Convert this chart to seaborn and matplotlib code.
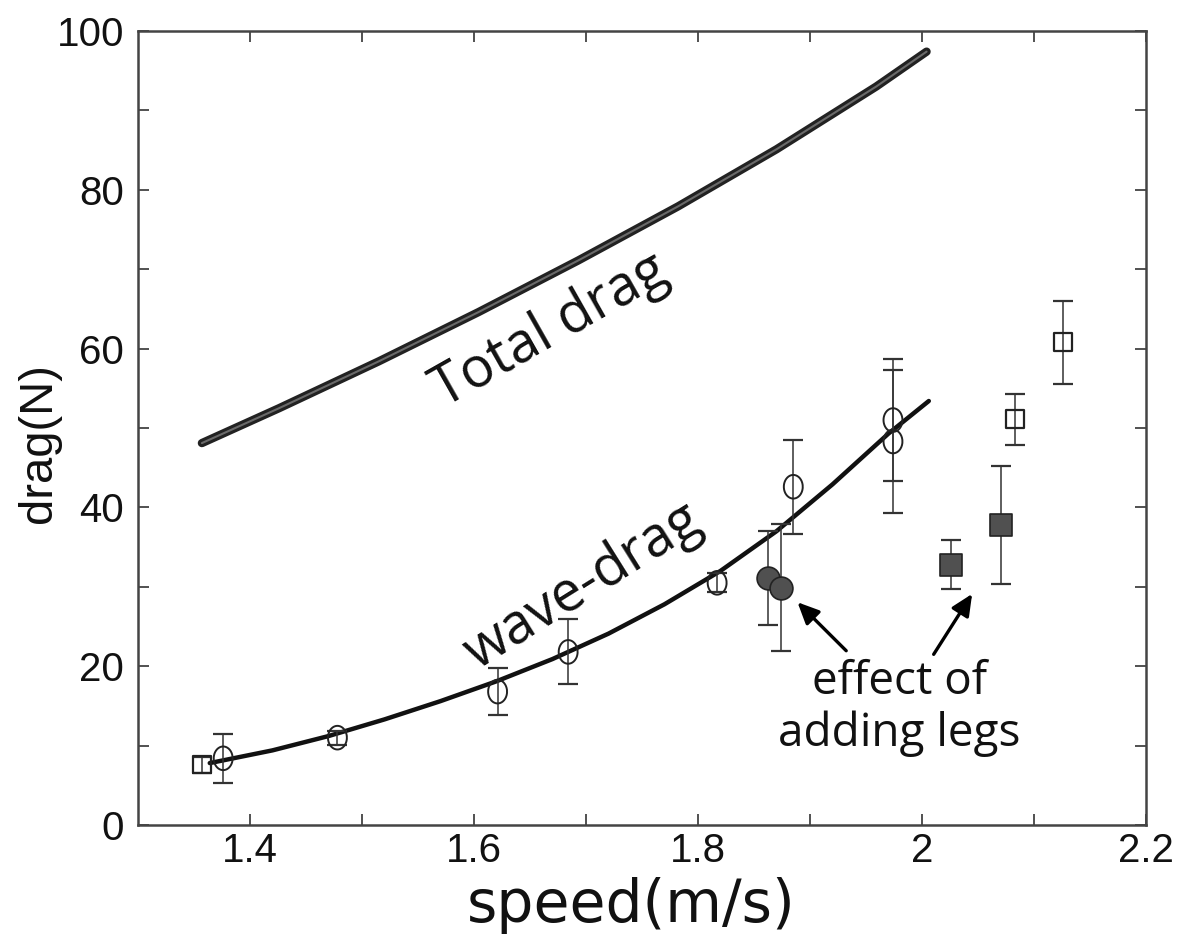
import numpy as np
import seaborn as sns
import matplotlib.pyplot as plt
import matplotlib.ticker as ticker

# curves
total_speed = [1.357, 1.426, 1.515, 1.604, 1.693, 1.782, 1.870, 1.959, 2.004]
total_drag = [48.1, 52.5, 58.4, 64.6, 71.1, 77.9, 85.1, 93.0, 97.4]
wave_speed = [1.364, 1.42, 1.47, 1.52, 1.57, 1.62, 1.67, 1.72, 1.77, 1.82, 1.87, 1.92, 1.97, 2.006]
wave_drag = [7.8, 9.4, 11.2, 13.3, 15.6, 18.1, 20.9, 24.1, 27.8, 32.0, 37.0, 42.9, 49.3, 53.4]

# measured points
ocirc_speed = [1.376, 1.478, 1.621, 1.684, 1.817, 1.885, 1.974, 1.974]
ocirc_drag = [8.4, 11.0, 16.8, 21.8, 30.5, 42.6, 51.0, 48.3]
ocirc_err = [3.1, 0.9, 3.0, 4.1, 1.2, 5.9, 7.7, 9.0]

osq_speed = [1.357, 2.083, 2.126]
osq_drag = [7.6, 51.1, 60.8]
osq_err = [1.0, 3.2, 5.2]

fcirc_speed = [1.8625, 1.874]
fcirc_drag = [31.1, 29.9]
fcirc_err = [5.9, 8.0]

fsq_speed = [2.026, 2.070]
fsq_drag = [32.8, 37.8]
fsq_err = [3.1, 7.4]

sns.set_style("ticks")
plt.rcParams['font.family'] = ['Liberation Sans', 'DejaVu Sans']

fig = plt.figure(figsize=(11.84, 9.39), dpi=100)
ax = fig.add_axes([0.1166, 0.1214, 0.8514, 0.8456])

# total drag: thick line with lighter core
sns.lineplot(x=total_speed, y=total_drag, sort=False, color='#222222', lw=6, ax=ax)
sns.lineplot(x=total_speed, y=total_drag, sort=False, color='#6a6a6a', lw=1.5, ax=ax)
sns.lineplot(x=wave_speed, y=wave_drag, sort=False, color='#111111', lw=3.2, ax=ax)

ekw = dict(fmt='none', ecolor='#333333', elinewidth=1.1, capsize=7, capthick=1.6, zorder=3)
ax.errorbar(ocirc_speed, ocirc_drag, yerr=ocirc_err, **ekw)
ax.errorbar(osq_speed, osq_drag, yerr=osq_err, **ekw)
ax.errorbar(fcirc_speed, fcirc_drag, yerr=fcirc_err, **ekw)
ax.errorbar(fsq_speed, fsq_drag, yerr=fsq_err, **ekw)

# slightly tall ellipse marker
t = np.linspace(0, 2 * np.pi, 40)
ell = list(zip(0.8 * np.cos(t), np.sin(t)))

sns.scatterplot(x=ocirc_speed, y=ocirc_drag, marker=ell, s=290, facecolor='none',
                edgecolor='#222222', linewidth=1.4, ax=ax, zorder=4)
sns.scatterplot(x=osq_speed, y=osq_drag, marker='s', s=160, facecolor='none',
                edgecolor='#222222', linewidth=1.6, ax=ax, zorder=4)
sns.scatterplot(x=fcirc_speed, y=fcirc_drag, marker='o', s=270, color='#505050',
                edgecolor='#222222', linewidth=1.2, ax=ax, zorder=4)
sns.scatterplot(x=fsq_speed, y=fsq_drag, marker='s', s=250, color='#505050',
                edgecolor='#222222', linewidth=1.2, ax=ax, zorder=4)

ax.set_xlim(1.3, 2.2)
ax.set_ylim(0, 100)
ax.xaxis.set_major_locator(ticker.FixedLocator([1.4, 1.6, 1.8, 2.0, 2.2]))
ax.xaxis.set_minor_locator(ticker.FixedLocator([1.5, 1.7, 1.9, 2.1]))
ax.xaxis.set_major_formatter(ticker.FormatStrFormatter('%g'))
ax.yaxis.set_major_locator(ticker.MultipleLocator(20))
ax.yaxis.set_minor_locator(ticker.MultipleLocator(10))
ax.tick_params(which='both', direction='in', top=True, right=True, length=8,
               width=1.2, color='#333333', labelsize=29, pad=10, labelcolor='#111111')
ax.tick_params(axis='x', pad=5)
for s in ax.spines.values():
    s.set_linewidth(1.8)
    s.set_color('#444444')

ax.set_xlabel('speed(m/s)', fontsize=42, family=['DejaVu Sans'], color='#111111')
ax.xaxis.set_label_coords(0.489, -0.066)
ax.set_ylabel('drag(N)', fontsize=34, color='#111111')
ax.yaxis.set_label_coords(-0.076, 0.481)

ann = ['Open Sans', 'DejaVu Sans']
ax.text(1.668, 62.2, 'Total drag', rotation=29.5, fontsize=40, family=ann, color='#111111',
        ha='center', va='center', rotation_mode='anchor')
ax.text(1.697, 30.0, 'wave-drag', rotation=32, fontsize=40, family=ann, color='#111111',
        ha='center', va='center', rotation_mode='anchor')
ax.text(1.980, 18.0, 'effect of', fontsize=33, family=ann, color='#111111',
        ha='center', va='center')
ax.text(1.980, 11.5, 'adding legs', fontsize=33, family=ann, color='#111111',
        ha='center', va='center')

akw = dict(arrowstyle='-|>,head_length=1.3,head_width=0.6', color='black', lw=2.4)
ax.annotate('', xy=(1.887, 28.3), xytext=(1.934, 21.7), arrowprops=akw)
ax.annotate('', xy=(2.046, 29.4), xytext=(2.009, 21.2), arrowprops=akw)

plt.savefig('out.png', dpi=100)
